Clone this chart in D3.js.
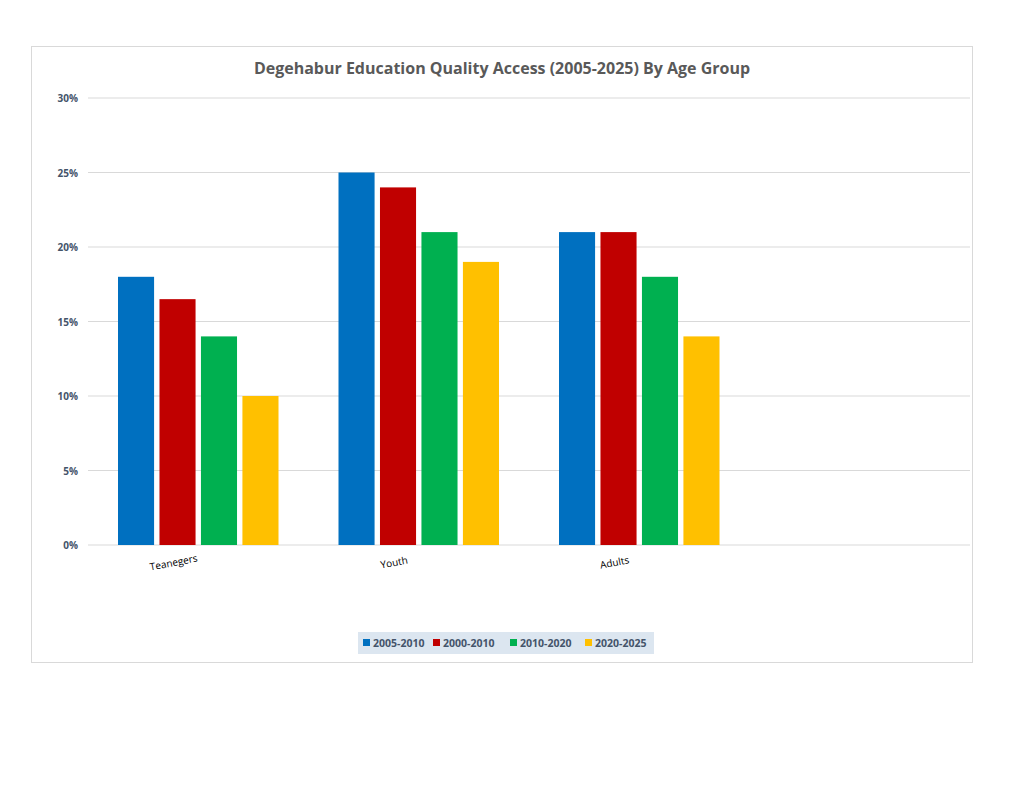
<!DOCTYPE html>
<html><head><meta charset="utf-8">
<script src="https://d3js.org/d3.v7.min.js"></script>
<style>body{margin:0;background:#fff}</style>
</head><body>
<script>
const categories = ["Teanegers","Youth","Adults",""];
const series = ["2005-2010","2000-2010","2010-2020","2020-2025"];
const colors = ["#0070c0","#c00000","#00b050","#ffc000"];
const values = [
  [18, 25, 21, null],
  [16.5, 24, 21, null],
  [14, 21, 18, null],
  [10, 19, 14, null]
];
const yTicks = [0,5,10,15,20,25,30];

const svg = d3.select("body").append("svg").attr("width",1024).attr("height",791);
svg.append("rect").attr("x",31.5).attr("y",46.5).attr("width",941).attr("height",616)
  .attr("fill","#fff").attr("stroke","#d9d9d9");
svg.append("text").attr("x",502).attr("y",74).attr("text-anchor","middle")
  .attr("font-family","Open Sans, sans-serif").attr("font-weight","bold").attr("font-size",16)
  .attr("fill","#595959").text("Degehabur Education Quality Access (2005-2025) By Age Group");

const x = d3.scaleBand().domain(categories).range([88,970]);
const y = d3.scaleLinear().domain([0,30]).range([545,98]);
const x1 = d3.scaleBand().domain(series).range([30, x.bandwidth()-30]).paddingInner(0.13);

const g = svg.append("g");
g.selectAll("line.grid").data(yTicks).join("line")
  .attr("x1",88).attr("x2",970).attr("y1",d=>y(d)).attr("y2",d=>y(d))
  .attr("stroke","#d9d9d9").attr("stroke-width",1);
g.selectAll("text.yl").data(yTicks).join("text")
  .attr("x",78).attr("y",d=>y(d)+4).attr("text-anchor","end")
  .attr("font-family","Open Sans, sans-serif").attr("font-weight","bold").attr("font-size",10)
  .attr("fill","#44546a").text(d=>d+"%");

series.forEach((s,i)=>{
  g.selectAll("rect.s"+i).data(categories.map((c,j)=>({c,v:values[i][j]})).filter(d=>d.v!=null))
    .join("rect")
    .attr("x",d=>x(d.c)+x1(s)).attr("width",x1.bandwidth())
    .attr("y",d=>y(d.v)).attr("height",d=>y(0)-y(d.v)).attr("fill",colors[i]);
});

categories.filter(c=>c).forEach(c=>{
  const cx = x(c)+x.bandwidth()/2-24, cy=566;
  g.append("text").attr("transform",`translate(${cx},${cy}) rotate(-11)`)
    .attr("text-anchor","middle").attr("font-family","Open Sans, sans-serif").attr("font-size",10)
    .attr("fill","#000").text(c);
});

// legend
svg.append("rect").attr("x",358).attr("y",632).attr("width",296).attr("height",22).attr("fill","#dce6f0");
const lx=[363,433,510,585];
series.forEach((s,i)=>{
  svg.append("rect").attr("x",lx[i]).attr("y",639).attr("width",7).attr("height",7).attr("fill",colors[i]);
  svg.append("text").attr("x",lx[i]+10).attr("y",647).attr("font-family","Open Sans, sans-serif")
    .attr("font-weight","bold").attr("font-size",10.5).attr("fill","#44546a").text(s);
});
</script>
</body></html>
